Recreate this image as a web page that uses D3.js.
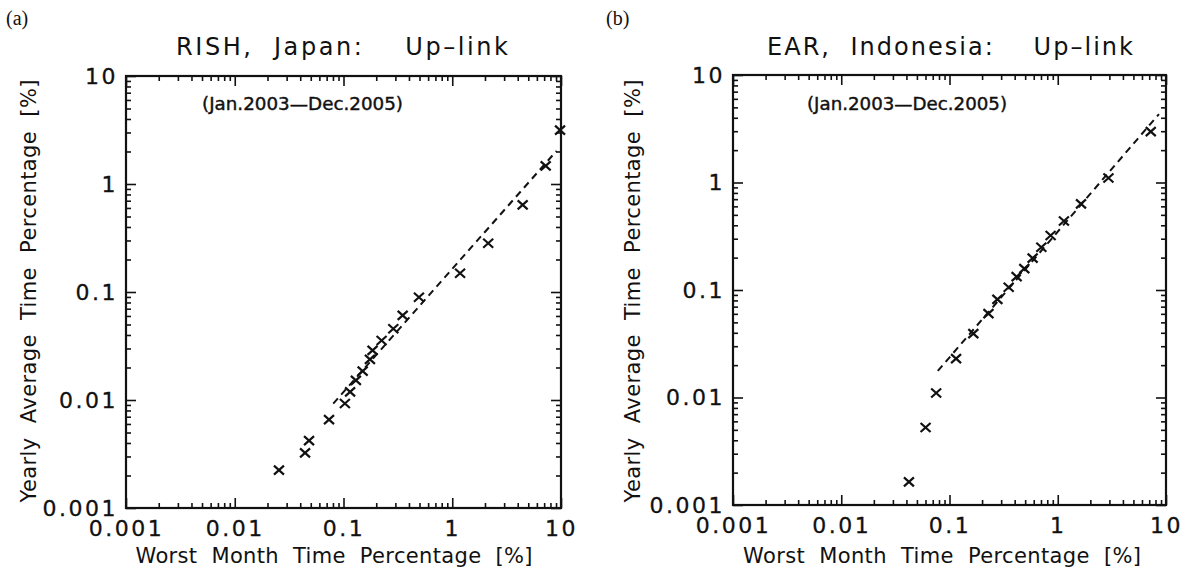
<!DOCTYPE html>
<html><head><meta charset="utf-8">
<script src="https://cdn.jsdelivr.net/npm/d3@7"></script>
<style>
html,body{margin:0;padding:0;background:#fff;}
svg text{font-family:"DejaVu Sans",sans-serif;fill:#111;}
</style></head>
<body>
<svg id="chart" width="1186" height="577"></svg>
<script>
// ---------- data ----------
const panelLetters = ["(a)", "(b)"];
const panelTitles = ["RISH,  Japan:    Up\u2013link", "EAR,  Indonesia:    Up\u2013link"];
const periodLabel = "(Jan.2003\u2014Dec.2005)";
const xAxisTitle = "Worst  Month  Time  Percentage  [%]";
const yAxisTitle = "Yearly  Average  Time  Percentage  [%]";
const majorTicks = [0.001, 0.01, 0.1, 1, 10];
const majorTickLabels = ["0.001", "0.01", "0.1", "1", "10"];

// RISH (Japan) scatter: worst month % vs yearly average %
const rishWorst  = [0.0255, 0.0443, 0.0482, 0.0736, 0.103, 0.115, 0.130, 0.150, 0.175, 0.185, 0.224, 0.287, 0.350, 0.494, 1.18, 2.14, 4.44, 7.23, 9.8];
const rishYearly = [0.00224, 0.00324, 0.00421, 0.00659, 0.00927, 0.0119, 0.0152, 0.0185, 0.0238, 0.0288, 0.0356, 0.0457, 0.0607, 0.0895, 0.149, 0.283, 0.640, 1.47, 3.15];
// RISH fitted (dashed) line endpoints
const rishFitWorst  = [0.0805, 9.12];
const rishFitYearly = [0.00927, 2.03];

// EAR (Indonesia) scatter
const earWorst  = [0.0422, 0.0601, 0.0753, 0.115, 0.166, 0.229, 0.277, 0.352, 0.417, 0.491, 0.586, 0.705, 0.859, 1.14, 1.64, 2.94, 7.23];
const earYearly = [0.00164, 0.00526, 0.0110, 0.0230, 0.0393, 0.0603, 0.0818, 0.106, 0.133, 0.158, 0.198, 0.250, 0.321, 0.438, 0.632, 1.10, 2.97];
// EAR fitted (dashed) line endpoints
const earFitWorst  = [0.078, 8.61];
const earFitYearly = [0.01766, 4.33];

// ---------- drawing ----------
const svg = d3.select("#chart");
const minorTicks = [];
[0.001, 0.01, 0.1, 1].forEach(d => { for (let k = 2; k <= 9; k++) minorTicks.push(+(d * k).toPrecision(3)); });

const panels = [
  {box: {x0: 126, x1: 561, y0: 76, y1: 508}, worst: rishWorst, yearly: rishYearly, fw: rishFitWorst, fy: rishFitYearly,
   letterX: 6, titleX: 342, titleW: 332, subX: 202, subW: 201, xtX: 334, xtW: 397, ytX: 28},
  {box: {x0: 733, x1: 1166, y0: 75, y1: 505}, worst: earWorst, yearly: earYearly, fw: earFitWorst, fy: earFitYearly,
   letterX: 606, titleX: 950, titleW: 366, subX: 807, subW: 200, xtX: 942, xtW: 398, ytX: 632}
];

panels.forEach((p, i) => {
  const b = p.box;
  const x = d3.scaleLog().domain([0.001, 10]).range([b.x0, b.x1]);
  const y = d3.scaleLog().domain([0.001, 10]).range([b.y1, b.y0]);
  const g = svg.append("g");
  const fmt = v => majorTickLabels[majorTicks.indexOf(v)];

  // minor ticks on all four sides (inward)
  const minorAxes = [
    [d3.axisBottom(x), `translate(0,${b.y1})`],
    [d3.axisTop(x), `translate(0,${b.y0})`],
    [d3.axisLeft(y), `translate(${b.x0},0)`],
    [d3.axisRight(y), `translate(${b.x1},0)`]
  ];
  minorAxes.forEach(([ax, tr]) => {
    const a = g.append("g").attr("transform", tr)
      .call(ax.tickValues(minorTicks).tickSize(-5).tickFormat(""));
    a.select(".domain").remove();
    a.selectAll("line").attr("stroke", "#111").attr("stroke-width", 1.6);
  });
  // major ticks: bottom/left with labels, top/right without
  const majorAxes = [
    [d3.axisBottom(x).tickFormat(fmt).tickPadding(12), `translate(0,${b.y1})`],
    [d3.axisTop(x).tickFormat(""), `translate(0,${b.y0})`],
    [d3.axisLeft(y).tickFormat(fmt).tickPadding(8), `translate(${b.x0},0)`],
    [d3.axisRight(y).tickFormat(""), `translate(${b.x1},0)`]
  ];
  majorAxes.forEach(([ax, tr]) => {
    const a = g.append("g").attr("transform", tr)
      .call(ax.tickValues(majorTicks).tickSizeInner(-10).tickSizeOuter(0));
    a.select(".domain").remove();
    a.selectAll("line").attr("stroke", "#111").attr("stroke-width", 1.6);
    a.selectAll("text").attr("font-size", 22).attr("letter-spacing", 2.5)
      .style("font-family", '"DejaVu Sans",sans-serif').attr("fill", "#111")
      .attr("stroke", "#111").attr("stroke-width", 0.3);
  });

  // frame
  g.append("rect").attr("x", b.x0).attr("y", b.y0)
    .attr("width", b.x1 - b.x0).attr("height", b.y1 - b.y0)
    .attr("fill", "none").attr("stroke", "#111").attr("stroke-width", 2.2);

  // dashed fit line
  const fit = p.fw.map((w, k) => [w, p.fy[k]]);
  g.append("path").datum(fit)
    .attr("d", d3.line().x(d => x(d[0])).y(d => y(d[1])))
    .attr("fill", "none").attr("stroke", "#111").attr("stroke-width", 2)
    .attr("stroke-dasharray", "7,5");

  // x markers
  const pts = p.worst.map((w, k) => [w, p.yearly[k]]);
  g.selectAll("path.pt").data(pts).join("path").attr("class", "pt")
    .attr("transform", d => `translate(${x(d[0])},${y(d[1])})`)
    .attr("d", "M-5,-4.5L5,4.5M-5,4.5L5,-4.5")
    .attr("stroke", "#111").attr("stroke-width", 2.2).attr("fill", "none");

  // texts
  svg.append("text").attr("x", p.letterX).attr("y", 25).text(panelLetters[i])
    .style("font-family", '"Liberation Serif",serif').attr("font-size", 20);
  svg.append("text").attr("x", p.titleX).attr("y", 55).attr("text-anchor", "middle")
    .attr("font-size", 24).attr("textLength", p.titleW).attr("lengthAdjust", "spacing")
    .style("white-space", "pre").text(panelTitles[i]);
  svg.append("text").attr("x", p.subX).attr("y", 110)
    .attr("font-size", 17).attr("textLength", p.subW).attr("lengthAdjust", "spacingAndGlyphs")
    .attr("stroke", "#111").attr("stroke-width", 0.4)
    .text(periodLabel);
  svg.append("text").attr("x", p.xtX).attr("y", 563).attr("text-anchor", "middle")
    .attr("font-size", 21).attr("textLength", p.xtW).attr("lengthAdjust", "spacing")
    .style("white-space", "pre").text(xAxisTitle);
  svg.append("text").attr("transform", `translate(${p.ytX + 8},291) rotate(-90)`)
    .attr("text-anchor", "middle")
    .attr("font-size", 21).attr("textLength", 423).attr("lengthAdjust", "spacing")
    .style("white-space", "pre").text(yAxisTitle);
});
</script>
</body></html>
